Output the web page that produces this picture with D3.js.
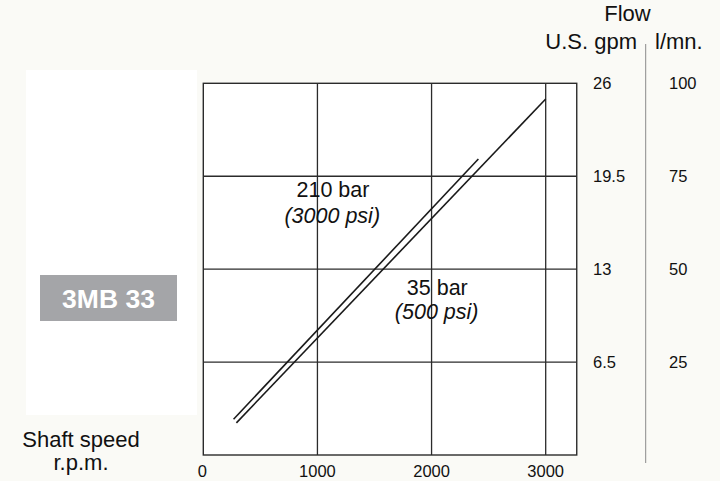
<!DOCTYPE html>
<html>
<head>
<meta charset="utf-8">
<script src="https://cdn.jsdelivr.net/npm/d3@7"></script>
<style>
  html, body { margin: 0; padding: 0; background: #fafaf6; }
  svg { display: block; }
  text { font-family: "Liberation Sans", Arial, Helvetica, sans-serif; fill: #111111; }
</style>
</head>
<body>
<svg id="chart" width="720" height="481"></svg>
<script>
// ---- data ----
const speedTicks = [0, 1000, 2000, 3000];
const speedLabels = ["0", "1000", "2000", "3000"];
const gpmTicks = [26, 19.5, 13, 6.5];
const gpmLabels = ["26", "19.5", "13", "6.5"];
const lmnLabels = ["100", "75", "50", "25"];
const gridSpeeds = [1000, 2000, 3000];
const gridFlows = [6.5, 13, 19.5];

// upper-left (short) curve and lower-right (long) curve: shaft speed rpm vs flow US gpm
const curveShortRpm = [265, 2410];
const curveShortGpm = [2.5, 20.7];
const curveLongRpm = [290, 3000];
const curveLongGpm = [2.25, 24.9];

const label210 = ["210 bar", "(3000 psi)"];
const label35 = ["35 bar", "(500 psi)"];
const modelName = "3MB 33";

// ---- layout ----
const svg = d3.select("#chart");
const x = d3.scaleLinear().domain([0, 3000]).range([203.3, 545.7]);
const xMax = 3272;
const y = d3.scaleLinear().domain([0, 26]).range([455, 83.3]);

// faint white panel on left
svg.append("rect").attr("x", 26).attr("y", 70).attr("width", 171).attr("height", 345)
  .attr("fill", "#ffffff");
// plot area white
svg.append("rect").attr("x", x(0)).attr("y", y(26)).attr("width", x(xMax) - x(0)).attr("height", y(0) - y(26))
  .attr("fill", "#ffffff");

const gridColor = "#2b2b2b";
// grid
svg.append("g").selectAll("line").data(gridSpeeds).join("line")
  .attr("x1", d => x(d)).attr("x2", d => x(d))
  .attr("y1", y(26)).attr("y2", y(0))
  .attr("stroke", gridColor).attr("stroke-width", 1.3);
svg.append("g").selectAll("line").data(gridFlows).join("line")
  .attr("x1", x(0)).attr("x2", x(xMax))
  .attr("y1", d => y(d)).attr("y2", d => y(d))
  .attr("stroke", gridColor).attr("stroke-width", 1.3);
// border
svg.append("rect").attr("x", x(0)).attr("y", y(26)).attr("width", x(xMax) - x(0)).attr("height", y(0) - y(26))
  .attr("fill", "none").attr("stroke", gridColor).attr("stroke-width", 1.4);

// curves
const line = d3.line().x(d => x(d[0])).y(d => y(d[1]));
const shortPts = d3.zip(curveShortRpm, curveShortGpm);
const longPts = d3.zip(curveLongRpm, curveLongGpm);
[shortPts, longPts].forEach(pts => {
  svg.append("path").datum(pts).attr("d", line)
    .attr("fill", "none").attr("stroke", "#1a1a1a").attr("stroke-width", 1.6);
});

// annotations
svg.append("text").attr("x", x(1136)).attr("y", y(18.05)).attr("text-anchor", "middle")
  .attr("font-size", 21.5).text(label210[0]);
svg.append("text").attr("x", x(1130)).attr("y", y(16.2)).attr("text-anchor", "middle")
  .attr("font-size", 21.5).attr("font-style", "italic").text(label210[1]);
svg.append("text").attr("x", x(2050)).attr("y", y(11.2)).attr("text-anchor", "middle")
  .attr("font-size", 21.5).text(label35[0]);
svg.append("text").attr("x", x(2045)).attr("y", y(9.5)).attr("text-anchor", "middle")
  .attr("font-size", 21.5).attr("font-style", "italic").text(label35[1]);

// x tick labels
svg.append("g").selectAll("text").data(speedTicks).join("text")
  .attr("x", d => x(d) - (d === 0 ? 1 : 0)).attr("y", 477).attr("text-anchor", "middle")
  .attr("font-size", 16.5).text((d, i) => speedLabels[i]);

// right tick labels
svg.append("g").selectAll("text").data(gpmTicks).join("text")
  .attr("x", 593).attr("y", d => y(d)).attr("dy", "0.36em")
  .attr("font-size", 16.5).text((d, i) => gpmLabels[i]);
svg.append("g").selectAll("text").data(gpmTicks).join("text")
  .attr("x", 669).attr("y", d => y(d)).attr("dy", "0.36em")
  .attr("font-size", 16.5).text((d, i) => lmnLabels[i]);

// separator
svg.append("line").attr("x1", 645.7).attr("x2", 645.7).attr("y1", 44).attr("y2", 463)
  .attr("stroke", "#8a8a8a").attr("stroke-width", 1);

// headers
svg.append("text").attr("x", 627.5).attr("y", 21).attr("text-anchor", "middle")
  .attr("font-size", 22).text("Flow");
svg.append("text").attr("x", 637).attr("y", 48.5).attr("text-anchor", "end")
  .attr("font-size", 22).text("U.S. gpm");
svg.append("text").attr("x", 655).attr("y", 48.5).attr("text-anchor", "start")
  .attr("font-size", 22).text("l/mn.");

// axis title
svg.append("text").attr("x", 81).attr("y", 446.5).attr("text-anchor", "middle")
  .attr("font-size", 22).text("Shaft speed");
svg.append("text").attr("x", 81).attr("y", 470).attr("text-anchor", "middle")
  .attr("font-size", 22).text("r.p.m.");

// model badge
svg.append("rect").attr("x", 40).attr("y", 275).attr("width", 137).attr("height", 46)
  .attr("fill", "#a4a5a8");
svg.append("text").attr("x", 108.5).attr("y", 298).attr("dy", "0.36em").attr("text-anchor", "middle")
  .attr("font-size", 26.5).attr("font-weight", "bold").style("fill", "#ffffff").text(modelName);
</script>
</body>
</html>
